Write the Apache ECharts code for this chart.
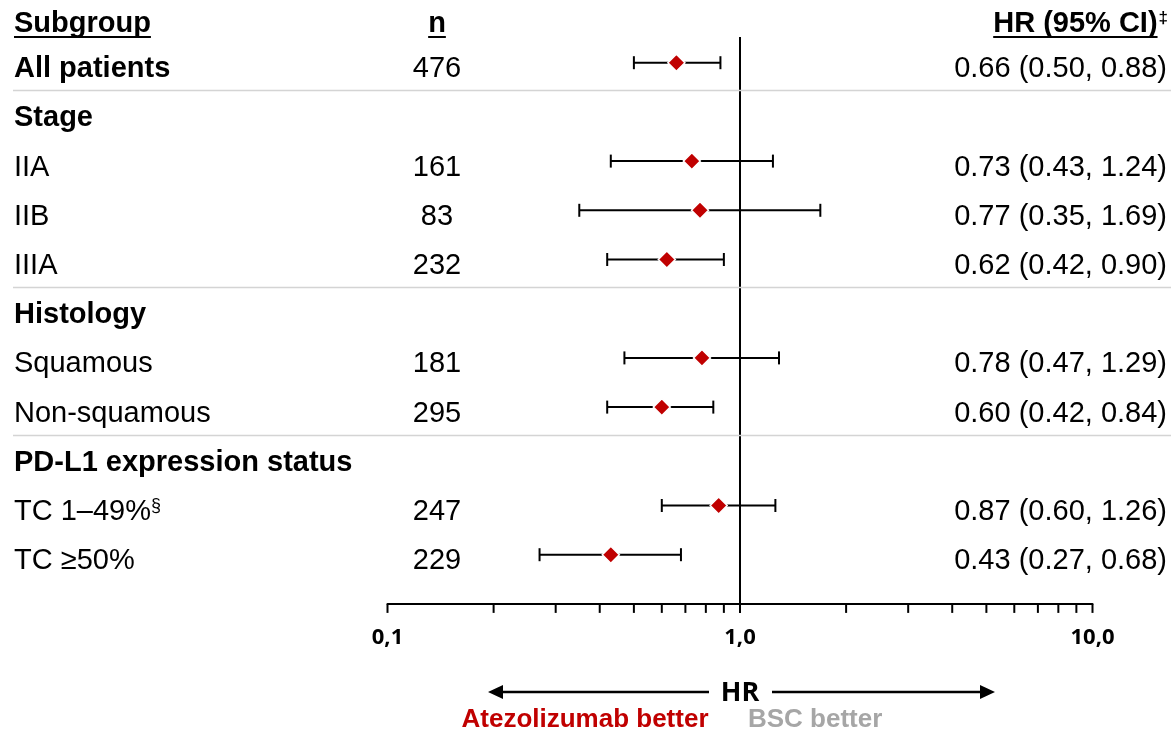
<!DOCTYPE html>
<html>
<head>
<meta charset="utf-8">
<title>Forest plot – disease-free survival by subgroup</title>
<script src="https://cdn.jsdelivr.net/npm/echarts@6/dist/echarts.min.js"></script>
<style>
  html, body { margin: 0; padding: 0; background: #fff; }
  #chart { width: 1171px; height: 733px; }
</style>
</head>
<body>
<div id="chart"></div>
<script>
// ---- data -------------------------------------------------------------
const subgroups = ['All patients', 'Stage', 'IIA', 'IIB', 'IIIA', 'Histology', 'Squamous',
  'Non-squamous', 'PD-L1 expression status', 'TC 1–49%{sup|§}', 'TC ≥50%'];
const isHeading = [true, true, false, false, false, true, false, false, true, false, false];
const patients = [476, null, 161, 83, 232, null, 181, 295, null, 247, 229];
const hazardRatio = [0.66, null, 0.73, 0.77, 0.62, null, 0.78, 0.60, null, 0.87, 0.43];
const ciLower = [0.50, null, 0.43, 0.35, 0.42, null, 0.47, 0.42, null, 0.60, 0.27];
const ciUpper = [0.88, null, 1.24, 1.69, 0.90, null, 1.29, 0.84, null, 1.26, 0.68];

const majorTicks = [0.1, 1, 10];
const majorTickLabels = ['0,1', '1,0', '10,0'];
const minorTicks = [0.2, 0.3, 0.4, 0.5, 0.6, 0.7, 0.8, 0.9, 2, 3, 4, 5, 6, 7, 8, 9];

// ---- styling ----------------------------------------------------------
const RED = '#c00000';
const GREY_TEXT = '#a6a6a6';
const SEP = '#d4d4d4';
const FONT = '"Liberation Sans", Arial, sans-serif';
const AXIS_FONT = '"Open Sans", "Liberation Sans", sans-serif';
const ROW_FONT_SIZE = 29;
const TEXT_DY = 6.5;        // row text sits slightly below the marker line
const ROW_MAX = 11;         // bottom of the plotting area in row units
const REF_TOP = -0.52;      // top of the line of no effect in row units

const fmt = v => v.toFixed(2);

function textWidth(str, font) {
  const ctx = document.createElement('canvas').getContext('2d');
  ctx.font = font;
  return ctx.measureText(str).width;
}

const chart = echarts.init(document.getElementById('chart'), null, { renderer: 'canvas' });

const rowIdx = subgroups.map((_, i) => i);
const ciData = rowIdx.filter(i => hazardRatio[i] != null).map(i => [ciLower[i], i, ciUpper[i]]);
const hrData = rowIdx.filter(i => hazardRatio[i] != null).map(i => [hazardRatio[i], i]);
const tickData = majorTicks.concat(minorTicks).map(v => [v, ROW_MAX]);
const separatorRows = rowIdx.filter(i => isHeading[i] && i > 0);

const option = {
  animation: false,
  grid: { left: 387.5, right: 78.5, top: 13.5, bottom: 129.1 },
  xAxis: {
    type: 'log',
    logBase: 10,
    min: 0.1,
    max: 10,
    position: 'bottom',
    axisLine: { show: true, onZero: false, lineStyle: { color: '#000', width: 2 } },
    axisTick: { show: false },
    splitLine: { show: false },
    minorTick: { show: false },
    axisLabel: {
      margin: 23,
      color: '#000',
      fontFamily: AXIS_FONT,
      fontWeight: 'bold',
      fontSize: 22,
      formatter: v => {
        const k = majorTicks.findIndex(t => Math.abs(Math.log10(t) - Math.log10(v)) < 1e-6);
        return k >= 0 ? majorTickLabels[k] : '';
      }
    }
  },
  yAxis: { type: 'value', inverse: true, min: -1, max: ROW_MAX, show: false },
  series: [
    // row labels, patient counts and HR (95% CI) text
    {
      type: 'custom',
      clip: false,
      silent: true,
      data: rowIdx.map(i => [1, i]),
      encode: { x: 0, y: 1 },
      renderItem(params, api) {
        const i = api.value(1);
        const y = api.coord([1, i])[1] + TEXT_DY;
        const weight = isHeading[i] ? 'bold' : 'normal';
        const children = [{
          type: 'text',
          style: {
            x: 14, y, text: subgroups[i], fill: '#000',
            fontFamily: FONT, fontSize: ROW_FONT_SIZE, fontWeight: weight,
            align: 'left', verticalAlign: 'middle',
            rich: {
              sup: { fontFamily: FONT, fontSize: 18, verticalAlign: 'top', padding: [0, 0, 12, 0], fill: '#000' }
            }
          }
        }];
        if (patients[i] != null) {
          children.push({
            type: 'text',
            style: {
              x: 437, y, text: String(patients[i]), fill: '#000',
              fontFamily: FONT, fontSize: ROW_FONT_SIZE,
              align: 'center', verticalAlign: 'middle'
            }
          });
        }
        if (hazardRatio[i] != null) {
          children.push({
            type: 'text',
            style: {
              x: 1167, y,
              text: fmt(hazardRatio[i]) + ' (' + fmt(ciLower[i]) + ', ' + fmt(ciUpper[i]) + ')',
              fill: '#000', fontFamily: FONT, fontSize: ROW_FONT_SIZE,
              align: 'right', verticalAlign: 'middle'
            }
          });
        }
        return { type: 'group', children };
      }
    },
    // thin grey rules before each new subgroup block
    {
      type: 'custom',
      clip: false,
      silent: true,
      data: separatorRows.map(i => [1, i - 0.44]),
      encode: { x: 0, y: 1 },
      renderItem(params, api) {
        const y = Math.round(api.coord([1, api.value(1)])[1]) + 0.5;
        return {
          type: 'line',
          shape: { x1: 13, y1: y, x2: 1171, y2: y },
          style: { stroke: SEP, lineWidth: 1.5 }
        };
      }
    },
    // line of no effect (HR = 1)
    {
      type: 'line',
      silent: true,
      symbol: 'none',
      data: [[1, REF_TOP], [1, ROW_MAX]],
      lineStyle: { color: '#000', width: 2 },
      z: 1
    },
    // axis tick marks at every decade step
    {
      type: 'custom',
      clip: false,
      silent: true,
      data: tickData,
      encode: { x: 0, y: 1 },
      renderItem(params, api) {
        const p = api.coord([api.value(0), api.value(1)]);
        return {
          type: 'line',
          shape: { x1: p[0], y1: p[1], x2: p[0], y2: p[1] + 9 },
          style: { stroke: '#000', lineWidth: 2 }
        };
      }
    },
    // 95% confidence intervals with end caps
    {
      type: 'custom',
      clip: false,
      silent: true,
      data: ciData,
      encode: { x: [0, 2], y: 1 },
      z: 2,
      renderItem(params, api) {
        const a = api.coord([api.value(0), api.value(1)]);
        const b = api.coord([api.value(2), api.value(1)]);
        const h = 6.5;
        const st = { stroke: '#000', lineWidth: 2 };
        return {
          type: 'group',
          children: [
            { type: 'line', shape: { x1: a[0], y1: a[1], x2: b[0], y2: b[1] }, style: st },
            { type: 'line', shape: { x1: a[0], y1: a[1] - h, x2: a[0], y2: a[1] + h }, style: st },
            { type: 'line', shape: { x1: b[0], y1: b[1] - h, x2: b[0], y2: b[1] + h }, style: st }
          ]
        };
      }
    },
    // hazard ratio point estimates
    {
      type: 'scatter',
      silent: true,
      symbol: 'diamond',
      symbolSize: [17, 17],
      data: hrData,
      itemStyle: { color: RED, borderColor: '#fff', borderWidth: 1.5, opacity: 1 },
      z: 3
    }
  ]
};

// column headings with underlines, direction arrow and its captions
const HEAD_FONT = 'bold ' + ROW_FONT_SIZE + 'px ' + FONT;
const wSubgroup = textWidth('Subgroup', HEAD_FONT);
const wN = textWidth('n', HEAD_FONT);
const wHR = textWidth('HR (95% CI)', HEAD_FONT);
const wDagger = textWidth('‡', 'bold 17px ' + FONT);
const hrRight = 1167 - wDagger;
const HEAD_Y = 23.5;
const UL_Y = 37;
const headText = (x, text, align) => ({
  type: 'text', x, y: HEAD_Y,
  style: { text, fill: '#000', fontFamily: FONT, fontSize: ROW_FONT_SIZE, fontWeight: 'bold', align, verticalAlign: 'middle' }
});
const underline = (x1, x2) => ({
  type: 'line', shape: { x1, y1: UL_Y, x2, y2: UL_Y }, style: { stroke: '#000', lineWidth: 2 }
});

const ARROW_Y = 692;
option.graphic = [
  headText(14, 'Subgroup', 'left'),
  underline(14, 14 + wSubgroup),
  headText(437, 'n', 'center'),
  underline(437 - wN / 2, 437 + wN / 2),
  headText(hrRight, 'HR (95% CI)', 'right'),
  underline(hrRight - wHR, hrRight),
  {
    type: 'text', x: hrRight + 1, y: 10,
    style: { text: '‡', fill: '#000', fontFamily: FONT, fontSize: 17, fontWeight: 'bold', align: 'left', verticalAlign: 'top' }
  },
  // HR direction arrow
  { type: 'line', shape: { x1: 500, y1: ARROW_Y, x2: 709, y2: ARROW_Y }, style: { stroke: '#000', lineWidth: 2.5 } },
  { type: 'line', shape: { x1: 772, y1: ARROW_Y, x2: 983, y2: ARROW_Y }, style: { stroke: '#000', lineWidth: 2.5 } },
  { type: 'polygon', shape: { points: [[488, ARROW_Y], [503, ARROW_Y - 7], [503, ARROW_Y + 7]] }, style: { fill: '#000' } },
  { type: 'polygon', shape: { points: [[995, ARROW_Y], [980, ARROW_Y - 7], [980, ARROW_Y + 7]] }, style: { fill: '#000' } },
  {
    type: 'text', x: 740, y: ARROW_Y + 1,
    style: { text: 'HR', fill: '#000', fontFamily: AXIS_FONT, fontSize: 27, fontWeight: 'bold', align: 'center', verticalAlign: 'middle' }
  },
  {
    type: 'text', x: 585, y: 720,
    style: { text: 'Atezolizumab better', fill: RED, fontFamily: FONT, fontSize: 26, fontWeight: 'bold', align: 'center', verticalAlign: 'middle' }
  },
  {
    type: 'text', x: 748, y: 720,
    style: { text: 'BSC better', fill: GREY_TEXT, fontFamily: FONT, fontSize: 26, fontWeight: 'bold', align: 'left', verticalAlign: 'middle' }
  }
];

chart.setOption(option);
</script>
</body>
</html>
